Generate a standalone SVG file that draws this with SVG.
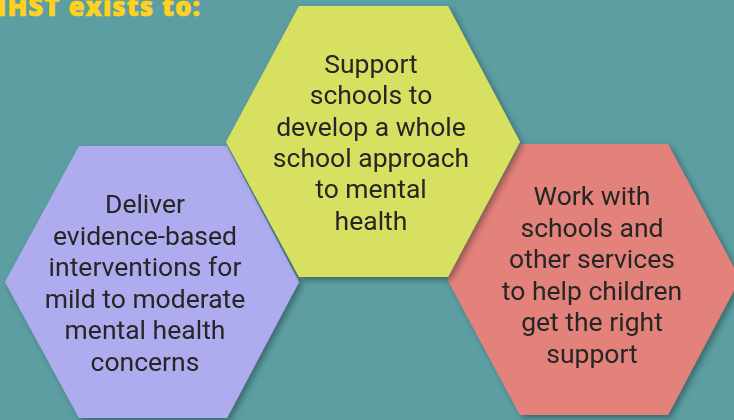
<svg xmlns="http://www.w3.org/2000/svg" width="734" height="420" viewBox="0 0 734 420">
<style>
.t{font-family:Roboto,"Liberation Sans",sans-serif;font-size:26.5px;fill:#262626;text-anchor:middle}
.title{font-family:"Open Sans","Liberation Sans",sans-serif;font-weight:800;font-size:26px;letter-spacing:1px;fill:#ffd21f;text-anchor:end;stroke:#ffd21f;stroke-width:0.6px}
</style>
<defs>
<filter id="sh" x="-10%" y="-10%" width="130%" height="130%">
<feDropShadow dx="3" dy="3" stdDeviation="3" flood-color="#000" flood-opacity="0.35"/>
</filter>
</defs>
<rect width="734" height="420" fill="#5c9ea2"/>
<text class="title" x="201" y="16">MHST exists to:</text>
<g id="purple" filter="url(#sh)">
<polygon points="79,146 227,146 299,282 227,418 79,418 5,282" fill="#aeacee"/>
<text class="t"><tspan x="145" y="213">Deliver</tspan><tspan x="145" y="245">evidence-based</tspan><tspan x="145" y="276">interventions for</tspan><tspan x="145" y="308">mild to moderate</tspan><tspan x="145" y="339">mental health</tspan><tspan x="145" y="371">concerns</tspan></text>
</g>
<g id="red" filter="url(#sh)">
<polygon points="520,144 668,144 740,279 668,415 520,415 447,279" fill="#e2827a"/>
<text class="t"><tspan x="592" y="205">Work with</tspan><tspan x="592" y="237">schools and</tspan><tspan x="592" y="268">other services</tspan><tspan x="592" y="300">to help children</tspan><tspan x="592" y="331">get the right</tspan><tspan x="592" y="363">support</tspan></text>
</g>
<g id="yellow" filter="url(#sh)">
<polygon points="299,6 448,6 520,142 448,277 299,277 226,142" fill="#d8e062"/>
<text class="t"><tspan x="371" y="73">Support</tspan><tspan x="371" y="104">schools to</tspan><tspan x="371" y="136">develop a whole</tspan><tspan x="371" y="167">school approach</tspan><tspan x="371" y="198">to mental</tspan><tspan x="371" y="230">health</tspan></text>
</g>
<g id="connectors"/>
</svg>
